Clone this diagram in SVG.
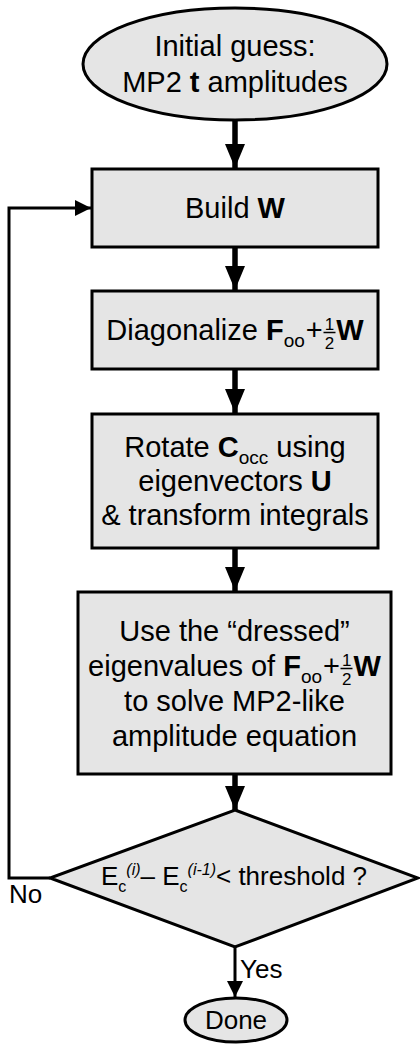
<svg xmlns="http://www.w3.org/2000/svg" width="420" height="1044" viewBox="0 0 420 1044">
<defs>
<style>
.n{fill:#e5e5e5;stroke:#000;stroke-width:3}
.t{font-family:"Liberation Sans",Arial,sans-serif;font-size:29px;fill:#000;text-anchor:middle}
.d{font-family:"Liberation Sans",Arial,sans-serif;font-size:26px;fill:#000}
.b{font-weight:bold}
.s{font-size:19px}
.f{font-size:17px}
.sd{font-size:16px}
.thick{stroke:#000;stroke-width:5.5;fill:none}
.thin{stroke:#000;stroke-width:3;fill:none}
.bar{stroke:#000;stroke-width:1.5}
</style>
<marker id="ah" viewBox="0 0 24 20" refX="24" refY="10" markerWidth="24" markerHeight="20" markerUnits="userSpaceOnUse" orient="auto"><path d="M0,0L24,10L0,20z" fill="#000"/></marker>
<marker id="as" viewBox="0 0 16 16" refX="16" refY="8" markerWidth="16" markerHeight="16" markerUnits="userSpaceOnUse" orient="auto"><path d="M0,0L16,8L0,16z" fill="#000"/></marker>
</defs>
<rect width="420" height="1044" fill="#fff"/>
<g id="connectors">
<line class="thick" x1="235" y1="120" x2="235" y2="168" marker-end="url(#ah)"/>
<line class="thick" x1="235" y1="247" x2="235" y2="290" marker-end="url(#ah)"/>
<line class="thick" x1="235" y1="369" x2="235" y2="413" marker-end="url(#ah)"/>
<line class="thick" x1="235" y1="548" x2="235" y2="591" marker-end="url(#ah)"/>
<line class="thick" x1="235" y1="774" x2="235" y2="810" marker-end="url(#ah)"/>
<line class="thin" x1="235" y1="947" x2="235" y2="997" marker-end="url(#as)"/>
<path class="thin" d="M50,878H9V208H91" marker-end="url(#as)"/>
<text class="d" x="240" y="978" font-size="24">Yes</text>
<text class="d" x="9" y="903">No</text>
</g>
<g id="start">
<ellipse class="n" cx="235" cy="64" rx="152" ry="56"/>
<text class="t" x="235" y="56">Initial guess:</text>
<text class="t" x="235" y="92">MP2 <tspan class="b">t</tspan> amplitudes</text>
</g>
<g id="buildW">
<rect class="n" x="92" y="169" width="286" height="78"/>
<text class="t" x="235" y="218">Build <tspan class="b">W</tspan></text>
</g>
<g id="diag">
<rect class="n" x="92" y="291" width="286" height="78"/>
<text class="t" x="235" y="340">Diagonalize <tspan class="b">F</tspan><tspan class="s" dy="7">oo</tspan><tspan dx="1" dy="-7">+</tspan><tspan class="f" dx="2" dy="-10">1</tspan><tspan class="f" dx="-9.45" dy="19">2</tspan><tspan class="b" dx="2" dy="-9">W</tspan></text>
<line class="bar" x1="323.5" y1="332.5" x2="335.5" y2="332.5"/>
</g>
<g id="rotate">
<rect class="n" x="92" y="414" width="286" height="134"/>
<text class="t" x="235" y="457">Rotate <tspan class="b">C</tspan><tspan class="s" dy="7">occ</tspan><tspan dy="-7"> using</tspan></text>
<text class="t" x="235" y="491">eigenvectors <tspan class="b">U</tspan></text>
<text class="t" x="235" y="525">&amp; transform integrals</text>
</g>
<g id="solve">
<rect class="n" x="78" y="592" width="313" height="182"/>
<text class="t" x="234.5" y="641">Use the “dressed”</text>
<text class="t" x="234.5" y="676">eigenvalues of <tspan class="b">F</tspan><tspan class="s" dy="7">oo</tspan><tspan dx="1" dy="-7">+</tspan><tspan class="f" dx="2" dy="-10">1</tspan><tspan class="f" dx="-9.45" dy="19">2</tspan><tspan class="b" dx="2" dy="-9">W</tspan></text>
<line class="bar" x1="340.5" y1="668.5" x2="352.5" y2="668.5"/>
<text class="t" x="234.5" y="711">to solve MP2-like</text>
<text class="t" x="234.5" y="746">amplitude equation</text>
</g>
<g id="check">
<polygon class="n" points="235,810 418,878 235,947 50,878"/>
<text class="d" x="234" y="885" text-anchor="middle">E<tspan class="sd" dy="7">c</tspan><tspan class="sd" font-style="italic" dy="-17">(i)</tspan><tspan dy="10">– E</tspan><tspan class="sd" dy="7">c</tspan><tspan class="sd" font-style="italic" dy="-17">(i-1)</tspan><tspan dy="10">&lt; threshold ?</tspan></text>
</g>
<g id="done">
<ellipse class="n" cx="236" cy="1020" rx="51" ry="22"/>
<text class="d" x="236" y="1029" text-anchor="middle">Done</text>
</g>
</svg>
